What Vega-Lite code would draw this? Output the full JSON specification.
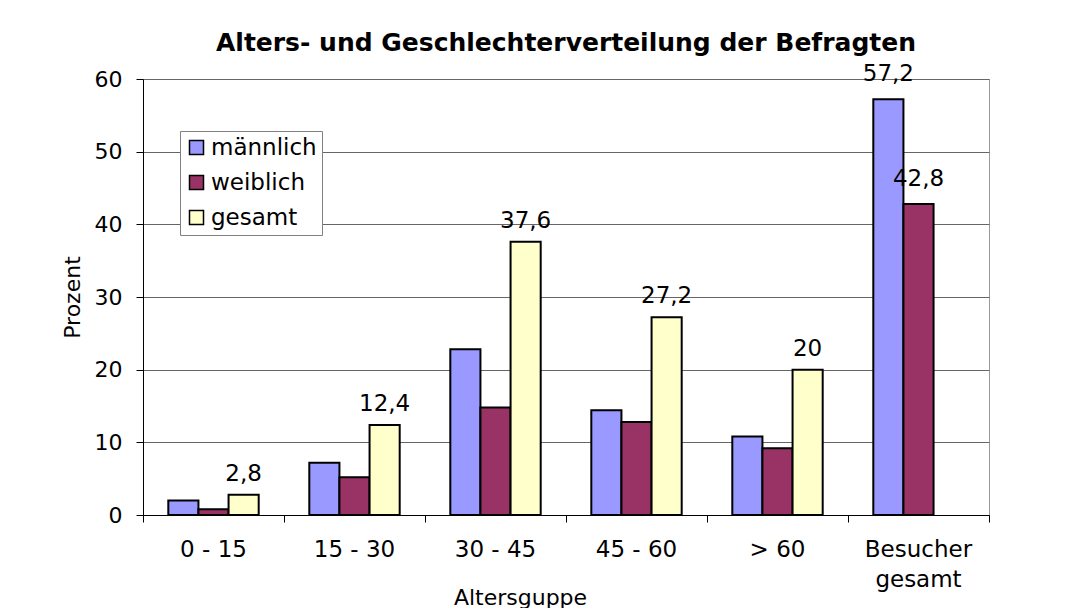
{
  "$schema": "https://vega.github.io/schema/vega-lite/v6.json",
  "autosize": {"type": "none"},
  "padding": {"left": 143, "top": 79, "right": 91, "bottom": 93},
  "width": 846,
  "height": 436,
  "background": "white",
  "title": {
    "text": "Alters- und Geschlechterverteilung der Befragten",
    "fontSize": 25,
    "fontWeight": "bold",
    "font": "DejaVu Sans",
    "anchor": "middle",
    "frame": "group",
    "color": "black",
    "baseline": "alphabetic",
    "offset": 24,
    "dy": 37
  },
  "data": {
    "values": [
      {"Altersgruppe": "0 - 15", "Geschlecht": "männlich", "Prozent": 2.0},
      {"Altersgruppe": "0 - 15", "Geschlecht": "weiblich", "Prozent": 0.8},
      {"Altersgruppe": "0 - 15", "Geschlecht": "gesamt", "Prozent": 2.8},
      {"Altersgruppe": "15 - 30", "Geschlecht": "männlich", "Prozent": 7.2},
      {"Altersgruppe": "15 - 30", "Geschlecht": "weiblich", "Prozent": 5.2},
      {"Altersgruppe": "15 - 30", "Geschlecht": "gesamt", "Prozent": 12.4},
      {"Altersgruppe": "30 - 45", "Geschlecht": "männlich", "Prozent": 22.8},
      {"Altersgruppe": "30 - 45", "Geschlecht": "weiblich", "Prozent": 14.8},
      {"Altersgruppe": "30 - 45", "Geschlecht": "gesamt", "Prozent": 37.6},
      {"Altersgruppe": "45 - 60", "Geschlecht": "männlich", "Prozent": 14.4},
      {"Altersgruppe": "45 - 60", "Geschlecht": "weiblich", "Prozent": 12.8},
      {"Altersgruppe": "45 - 60", "Geschlecht": "gesamt", "Prozent": 27.2},
      {"Altersgruppe": "> 60", "Geschlecht": "männlich", "Prozent": 10.8},
      {"Altersgruppe": "> 60", "Geschlecht": "weiblich", "Prozent": 9.2},
      {"Altersgruppe": "> 60", "Geschlecht": "gesamt", "Prozent": 20},
      {"Altersgruppe": "Besucher gesamt", "Geschlecht": "männlich", "Prozent": 57.2},
      {"Altersgruppe": "Besucher gesamt", "Geschlecht": "weiblich", "Prozent": 42.8}
    ]
  },
  "encoding": {
    "x": {
      "field": "Altersgruppe",
      "type": "nominal",
      "sort": ["0 - 15", "15 - 30", "30 - 45", "45 - 60", "> 60", "Besucher gesamt"],
      "scale": {"paddingInner": 0, "paddingOuter": 0},
      "axis": {
        "title": "Altersguppe",
        "titleFontSize": 22,
        "titleFontWeight": "normal",
        "titleColor": "black",
        "titleX": 377,
        "titleY": 89,
        "titleBaseline": "alphabetic",
        "labelAngle": 0,
        "labelFontSize": 23,
        "labelColor": "black",
        "labelPadding": 16,
        "labelLineHeight": 30,
        "labelExpr": "datum.label == 'Besucher gesamt' ? ['Besucher', 'gesamt'] : datum.label",
        "ticks": true,
        "tickSize": 7,
        "tickColor": "black",
        "bandPosition": 1,
        "tickExtra": true,
        "domainColor": "black",
        "domainWidth": 1,
        "grid": false
      }
    },
    "xOffset": {
      "field": "Geschlecht",
      "type": "nominal",
      "sort": ["männlich", "weiblich", "gesamt"],
      "scale": {"domain": ["männlich", "weiblich", "gesamt"], "paddingInner": 0, "paddingOuter": 0.84}
    },
    "y": {
      "field": "Prozent",
      "type": "quantitative",
      "scale": {"domain": [0, 60], "nice": false},
      "axis": {
        "values": [0, 10, 20, 30, 40, 50, 60],
        "title": "Prozent",
        "titleFontSize": 22,
        "titleFontWeight": "normal",
        "titleColor": "black",
        "titlePadding": 10,
        "labelFontSize": 22,
        "labelColor": "black",
        "labelPadding": 14,
        "tickSize": 7,
        "tickColor": "black",
        "domainColor": "black",
        "grid": true,
        "gridColor": "#666666",
        "gridWidth": 1
      }
    }
  },
  "layer": [
    {
      "mark": {"type": "bar", "stroke": "black", "strokeWidth": 2},
      "encoding": {
        "fill": {
          "field": "Geschlecht",
          "type": "nominal",
          "scale": {"domain": ["männlich", "weiblich", "gesamt"], "range": ["#9999FF", "#993366", "#FFFFCC"]},
          "legend": {
            "orient": "none",
            "legendX": 37,
            "legendY": 52,
            "title": null,
            "strokeColor": "#808080",
            "fillColor": "white",
            "padding": 5,
            "symbolType": "square",
            "symbolSize": 196,
            "symbolStrokeColor": "black",
            "symbolStrokeWidth": 1.5,
            "labelFontSize": 23,
            "labelColor": "black",
            "labelOffset": 3,
            "rowPadding": 11
          }
        }
      }
    },
    {
      "transform": [{"filter": "datum.Geschlecht == 'gesamt'"}],
      "mark": {"type": "text", "fontSize": 23, "color": "black", "baseline": "alphabetic", "dy": -14},
      "encoding": {
        "text": {"field": "Prozent", "type": "quantitative", "format": ".1~f"}
      }
    },
    {
      "transform": [{"filter": "datum.Altersgruppe == 'Besucher gesamt'"}],
      "mark": {"type": "text", "fontSize": 23, "color": "black", "baseline": "alphabetic", "dy": -18},
      "encoding": {
        "text": {"field": "Prozent", "type": "quantitative", "format": ".1~f"}
      }
    }
  ],
  "config": {
    "font": "DejaVu Sans",
    "locale": {"number": {"decimal": ",", "thousands": ".", "grouping": [3], "currency": ["", " €"]}},
    "view": {"stroke": "#999999", "strokeWidth": 1}
  }
}
